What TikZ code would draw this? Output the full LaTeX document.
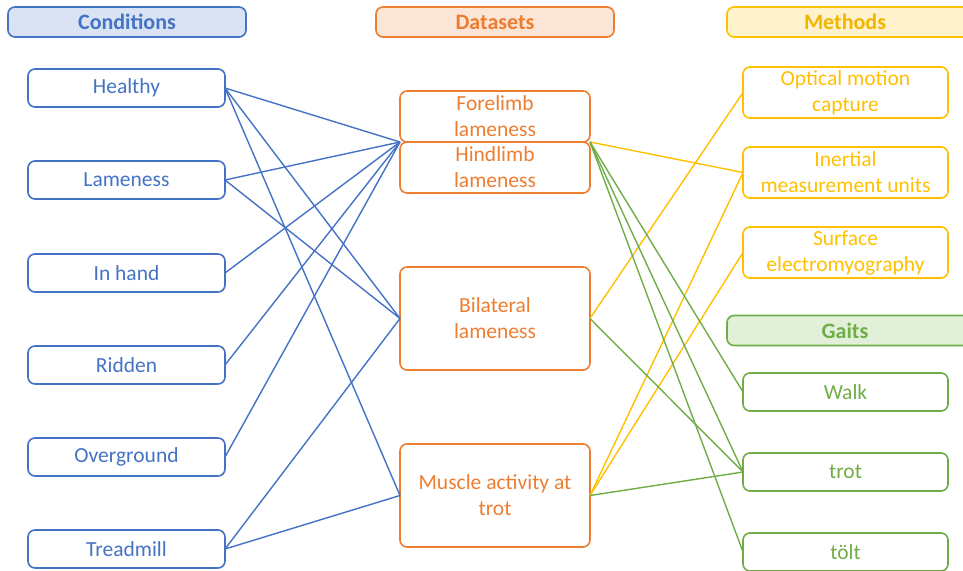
\documentclass[tikz,border=0pt]{standalone}
\usepackage{fontspec}
\setmainfont{Carlito}
\usepackage{tikz}
\usetikzlibrary{positioning}
\definecolor{condblue}{RGB}{68,114,196}
\definecolor{condfill}{RGB}{218,227,243}
\definecolor{dataorange}{RGB}{237,125,49}
\definecolor{datafill}{RGB}{251,229,214}
\definecolor{methgold}{RGB}{255,192,0}
\definecolor{methfill}{RGB}{255,242,204}
\definecolor{gaitgreen}{RGB}{112,173,71}
\definecolor{gaitfill}{RGB}{226,240,217}

\begin{document}
\begin{tikzpicture}[x=1pt, y=-1pt,
    box/.style={draw, rounded corners=7pt, line width=1.6pt, outer sep=0pt, inner sep=0pt,
        align=center, font=\fontsize{21.5}{26}\selectfont},
    head/.style={box, font=\fontsize{22}{24}\selectfont\bfseries, minimum height=30pt},
    cond/.style={box, draw=condblue, text=condblue, minimum width=197pt, minimum height=38pt},
    data/.style={box, draw=dataorange, text=dataorange, minimum width=190pt},
    meth/.style={box, draw=methgold, text=methgold, minimum width=205pt, minimum height=51pt},
    gait/.style={box, draw=gaitgreen, text=gaitgreen, minimum width=205pt, minimum height=38pt},
    link/.style={line width=1.4pt}]
    \useasboundingbox (0,0) rectangle (963,570);

    % Headers
    \node[head, draw=condblue, fill=condfill, text=condblue, minimum width=238pt] (condhead) at (127,22) {Conditions};
    \node[head, draw=dataorange, fill=datafill, text=dataorange, minimum width=238pt] (datahead) at (495,22) {Datasets};
    \node[head, draw=methgold, fill=methfill, text=methgold!95!black, minimum width=250pt] (methhead) at (852,22) {\hspace*{-14pt}Methods};
    \node[head, draw=gaitgreen, fill=gaitfill, text=gaitgreen, minimum width=250pt] (gaithead) at (852,330.5) {\hspace*{-14pt}Gaits};

    % Conditions
    \node[cond] (healthy) at (126.5,88) {Healthy};
    \node[cond] (lameness) at (126.5,180) {Lameness};
    \node[cond] (inhand) at (126.5,273) {In hand};
    \node[cond] (ridden) at (126.5,365) {Ridden};
    \node[cond] (overground) at (126.5,457) {Overground};
    \node[cond] (treadmill) at (126.5,549) {Treadmill};

    % Datasets
    \node[data, minimum height=51pt] (forelimb) at (495,116.5) {Forelimb\\lameness};
    \node[data, minimum height=51pt] (hindlimb) at (495,167.5) {Hindlimb\\lameness};
    \node[data, minimum height=103pt] (bilateral) at (495,318.5) {Bilateral\\lameness};
    \node[data, minimum height=103pt] (muscle) at (495,495.5) {Muscle activity at\\trot};

    % Methods
    \node[meth] (optical) at (845.5,92.5) {Optical motion\\capture};
    \node[meth] (imu) at (845.5,172.5) {Inertial\\measurement units};
    \node[meth] (semg) at (845.5,252.5) {Surface\\electromyography};

    % Gaits
    \node[gait] (walk) at (845.5,392) {Walk};
    \node[gait] (trot) at (845.5,472) {trot};
    \node[gait] (tolt) at (845.5,552) {tölt};

    % Conditions -> datasets
    \coordinate (limbs) at (forelimb.south west);
    \draw[link, condblue] (healthy.east) -- (limbs);
    \draw[link, condblue] (healthy.east) -- (bilateral.west);
    \draw[link, condblue] (healthy.east) -- (muscle.west);
    \draw[link, condblue] (lameness.east) -- (limbs);
    \draw[link, condblue] (lameness.east) -- (bilateral.west);
    \draw[link, condblue] (inhand.east) -- (limbs);
    \draw[link, condblue] (ridden.east) -- (limbs);
    \draw[link, condblue] (overground.east) -- (limbs);
    \draw[link, condblue] (treadmill.east) -- (bilateral.west);
    \draw[link, condblue] (treadmill.east) -- (muscle.west);

    % Datasets -> methods
    \coordinate (limbsr) at (forelimb.south east);
    \draw[link, methgold] (limbsr) -- (imu.west);
    \draw[link, methgold] (bilateral.east) -- (optical.west);
    \draw[link, methgold] (muscle.east) -- (imu.west);
    \draw[link, methgold] (muscle.east) -- (semg.west);

    % Datasets -> gaits
    \draw[link, gaitgreen] (limbsr) -- (walk.west);
    \draw[link, gaitgreen] (limbsr) -- (trot.west);
    \draw[link, gaitgreen] (limbsr) -- (tolt.west);
    \draw[link, gaitgreen] (bilateral.east) -- (trot.west);
    \draw[link, gaitgreen] (muscle.east) -- (trot.west);
\end{tikzpicture}
\end{document}
